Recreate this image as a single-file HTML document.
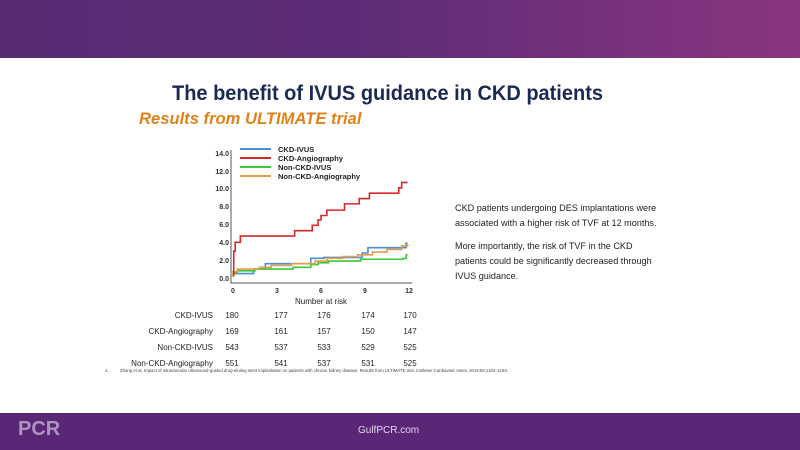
<!DOCTYPE html>
<html><head><meta charset="utf-8"><style>
body{margin:0;width:800px;height:450px;position:relative;background:#fff;font-family:"Liberation Sans",sans-serif;overflow:hidden}
.top{position:absolute;left:0;top:0;width:800px;height:58px;background:linear-gradient(90deg,#582b73 0%,#5e2c76 45%,#8a3580 100%)}
.bot{position:absolute;left:0;top:413px;width:800px;height:37px;background:#5a2777}
.t{position:absolute;white-space:nowrap}
</style></head><body>
<div class="top"></div>
<div class="t" style="left:172px;top:82px;font-size:21px;font-weight:bold;color:#1b2a55;transform:scaleX(0.952);transform-origin:0 0">The benefit of IVUS guidance in CKD patients</div>
<div class="t" style="left:139px;top:109px;font-size:16.6px;font-weight:bold;font-style:italic;color:#e0821a">Results from ULTIMATE trial</div>
<svg width="800" height="450" style="position:absolute;left:0;top:0" font-family="Liberation Sans" >
<g font-size="7" font-weight="bold" fill="#333" text-anchor="end">
<text x="229" y="156">14.0</text><text x="229" y="174">12.0</text><text x="229" y="191">10.0</text>
<text x="229" y="209">8.0</text><text x="229" y="227">6.0</text><text x="229" y="245">4.0</text>
<text x="229" y="263">2.0</text><text x="229" y="281">0.0</text>
</g>
<g font-size="7" font-weight="bold" fill="#333" text-anchor="middle">
<text x="233" y="293">0</text><text x="277" y="293">3</text><text x="321" y="293">6</text><text x="365" y="293">9</text><text x="409" y="293">12</text>
</g>
<path d="M231,150V283H412" fill="none" stroke="#555" stroke-width="1"/>
<g stroke-width="2" fill="none" stroke-linejoin="miter">
<line x1="240" y1="149" x2="271" y2="149" stroke="#4a90d9"/>
<line x1="240" y1="158" x2="271" y2="158" stroke="#d42a2a"/>
<line x1="240" y1="167" x2="271" y2="167" stroke="#3cc83c"/>
<line x1="240" y1="176" x2="271" y2="176" stroke="#e59b4a"/>
</g>
<g font-size="7.5" font-weight="bold" fill="#222">
<text x="278" y="152">CKD-IVUS</text><text x="278" y="161">CKD-Angiography</text>
<text x="278" y="170">Non-CKD-IVUS</text><text x="278" y="179">Non-CKD-Angiography</text>
</g>
<g transform="translate(233,278) scale(14.67,-8.93)" fill="none" stroke-width="1.6">
<path vector-effect="non-scaling-stroke" stroke="#4a90d9" d="M0,0.3H0.05V0.5H1.4V1.0H2.2V1.6H5.3V2.2H6.2V2.3H8.8V2.8H9.2V3.4H11.8V3.9H11.9"/>
<path vector-effect="non-scaling-stroke" stroke="#3cc83c" d="M0,0.6H0.3V0.8H1.5V1.0H4.1V1.2H5.3V1.5H5.8V1.7H6.5V1.9H8.7V2.1H11.6V2.2H11.8V2.6H11.9"/>
<path vector-effect="non-scaling-stroke" stroke="#e59b4a" d="M0,0.1V0.7H0.3V1.0H1.8V1.2H2.6V1.4H4.0V1.6H5.6V1.9H6.4V2.2H7.5V2.4H8.5V2.6H9.5V2.9H10.5V3.2H11.5V3.6H11.9V3.8"/>
<path vector-effect="non-scaling-stroke" stroke="#d42a2a" d="M0,0.3H0.05V3.0H0.15V4.0H0.5V4.7H4.2V5.3H5.4V5.9H5.8V6.5H6.0V7.0H6.4V7.6H7.6V8.3H8.6V8.9H9.3V9.5H11.3V10.1H11.5V10.7H11.9"/>
</g>
<text x="321" y="304" font-size="8" fill="#222" text-anchor="middle">Number at risk</text>
<g font-size="8" fill="#222" text-anchor="end">
<text x="213" y="318">CKD-IVUS</text><text x="213" y="334">CKD-Angiography</text>
<text x="213" y="350">Non-CKD-IVUS</text><text x="213" y="366">Non-CKD-Angiography</text>
</g>
<g font-size="8" fill="#222" text-anchor="middle">
<text x="232" y="318">180</text><text x="281" y="318">177</text><text x="324" y="318">176</text><text x="368" y="318">174</text><text x="410" y="318">170</text>
<text x="232" y="334">169</text><text x="281" y="334">161</text><text x="324" y="334">157</text><text x="368" y="334">150</text><text x="410" y="334">147</text>
<text x="232" y="350">543</text><text x="281" y="350">537</text><text x="324" y="350">533</text><text x="368" y="350">529</text><text x="410" y="350">525</text>
<text x="232" y="366">551</text><text x="281" y="366">541</text><text x="324" y="366">537</text><text x="368" y="366">531</text><text x="410" y="366">525</text>
</g>
<text x="105" y="372" font-size="4.3" fill="#444">1.</text>
<text x="120" y="372" font-size="4.3" fill="#444">Zhang et al. Impact of intravascular ultrasound-guided drug-eluting stent implantation on patients with chronic kidney disease: Results from ULTIMATE trial. Catheter Cardiovasc Interv. 2019;93:1184–1193.</text>
</svg>
<div class="t" style="left:455px;top:201px;font-size:9.1px;line-height:15px;color:#222">CKD patients undergoing DES implantations were<br>associated with a higher risk of TVF at 12 months.<div style="height:8px"></div>More importantly, the risk of TVF in the CKD<br>patients could be significantly decreased through<br>IVUS guidance.</div>
<div class="bot"></div>
<div class="t" style="left:18px;top:418px;font-size:20px;font-weight:bold;color:#cfc3dc;opacity:.7">PCR</div>
<div class="t" style="left:358px;top:425px;font-size:10px;color:#e0d6ea">GulfPCR.com</div>
</body></html>
